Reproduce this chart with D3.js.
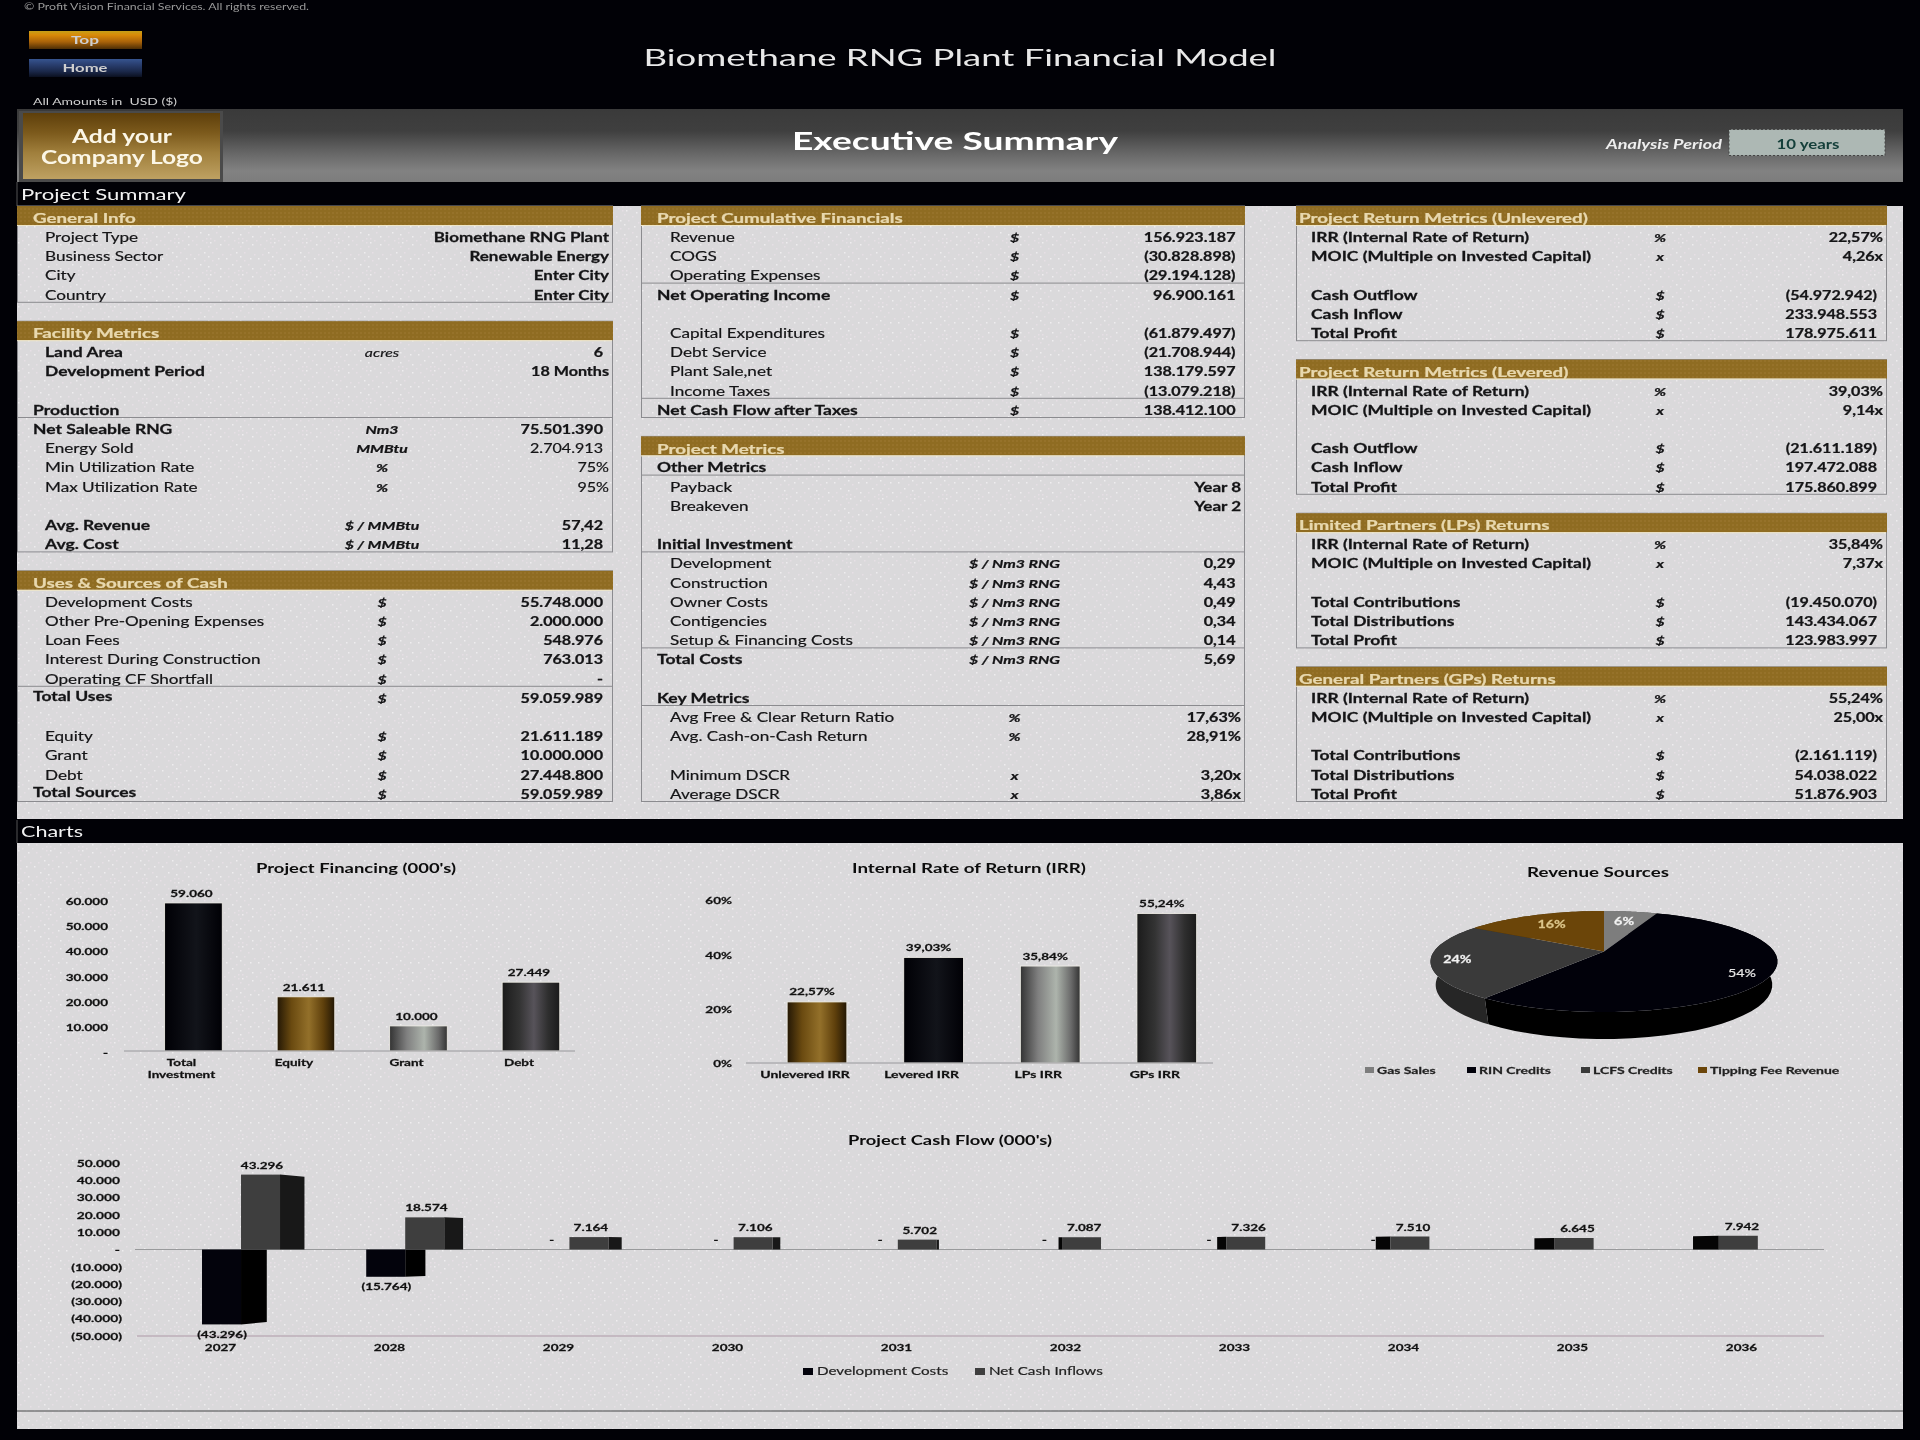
<!DOCTYPE html>
<html><head><meta charset="utf-8">
<script src="https://cdn.jsdelivr.net/npm/d3@7"></script>
<style>
html,body{margin:0;padding:0;background:#010106;}
svg{display:block;filter:blur(.3px);}
</style></head><body><div id="chart"></div>
<script>
// ---------- DATA ----------
const generalLabels=["Project Type","Business Sector","City","Country"];
const generalUnits=["","","",""];
const generalValues=["Biomethane RNG Plant","Renewable Energy","Enter City","Enter City"];

const facilityLabels=["Land Area","Development Period","","Production","Net Saleable RNG","Energy Sold","Min Utilization Rate","Max Utilization Rate","","Avg. Revenue","Avg. Cost"];
const facilityUnits=["acres","","","","Nm3","MMBtu","%","%","","$ / MMBtu","$ / MMBtu"];
const facilityValues=["6","18 Months","","","75.501.390","2.704.913","75%","95%","","57,42","11,28"];

const usesLabels=["Development Costs","Other Pre-Opening Expenses","Loan Fees","Interest During Construction","Operating CF Shortfall","Total Uses","","Equity","Grant","Debt","Total Sources"];
const usesUnits=["$","$","$","$","$","$","","$","$","$","$"];
const usesValues=["55.748.000","2.000.000","548.976","763.013","-","59.059.989","","21.611.189","10.000.000","27.448.800","59.059.989"];

const cumulativeLabels=["Revenue","COGS","Operating Expenses","Net Operating Income","","Capital Expenditures","Debt Service","Plant Sale,net","Income Taxes","Net Cash Flow after Taxes"];
const cumulativeUnits=["$","$","$","$","","$","$","$","$","$"];
const cumulativeValues=["156.923.187","(30.828.898)","(29.194.128)","96.900.161","","(61.879.497)","(21.708.944)","138.179.597","(13.079.218)","138.412.100"];

const metricsLabels=["Other Metrics","Payback","Breakeven","","Initial Investment","Development","Construction","Owner Costs","Contigencies","Setup & Financing Costs","Total Costs","","Key Metrics","Avg Free & Clear Return Ratio","Avg. Cash-on-Cash Return","","Minimum DSCR","Average DSCR"];
const metricsUnits=["","","","","","$ / Nm3 RNG","$ / Nm3 RNG","$ / Nm3 RNG","$ / Nm3 RNG","$ / Nm3 RNG","$ / Nm3 RNG","","","%","%","","x","x"];
const metricsValues=["","Year 8","Year 2","","","0,29","4,43","0,49","0,34","0,14","5,69","","","17,63%","28,91%","","3,20x","3,86x"];

const returnUnits=["%","x","","$","$","$"];
const unleveredLabels=["IRR (Internal Rate of Return)","MOIC (Multiple on Invested Capital)","","Cash Outflow","Cash Inflow","Total Profit"];
const unleveredValues=["22,57%","4,26x","","(54.972.942)","233.948.553","178.975.611"];
const leveredLabels=unleveredLabels;
const leveredValues=["39,03%","9,14x","","(21.611.189)","197.472.088","175.860.899"];
const partnerLabels=["IRR (Internal Rate of Return)","MOIC (Multiple on Invested Capital)","","Total Contributions","Total Distributions","Total Profit"];
const lpValues=["35,84%","7,37x","","(19.450.070)","143.434.067","123.983.997"];
const gpValues=["55,24%","25,00x","","(2.161.119)","54.038.022","51.876.903"];

const financingCategories=["Total Investment","Equity","Grant","Debt"];
const financingValues=[59060,21611,10000,27449];
const financingTicks=[0,10000,20000,30000,40000,50000,60000];

const irrCategories=["Unlevered IRR","Levered IRR","LPs IRR","GPs IRR"];
const irrValues=[22.57,39.03,35.84,55.24];
const irrTicks=[0,20,40,60];

const revenueCategories=["Gas Sales","RIN Credits","LCFS Credits","Tipping Fee Revenue"];
const revenueShares=[6,54,24,16];

const cashYears=["2027","2028","2029","2030","2031","2032","2033","2034","2035","2036"];
const developmentCosts=[-43296,-15764,0,0,0,0,0,0,0,0];
const netCashInflows=[43296,18574,7164,7106,5702,7087,7326,7510,6645,7942];
const cashTicks=[-50000,-40000,-30000,-20000,-10000,0,10000,20000,30000,40000,50000];

// ---------- HELPERS ----------
const W=1920,H=1440,FONT="Lato, 'Open Sans', sans-serif";
const svg=d3.select("#chart").append("svg").attr("width",W).attr("height",H).attr("viewBox",`0 0 ${W} ${H}`);
const defs=svg.append("defs");
const loc=d3.formatLocale({decimal:",",thousands:".",grouping:[3],currency:["$",""]});
const fInt=loc.format(",d");
const fAcc=v=>v===0?"-":v<0?`(${fInt(-v)})`:fInt(v);
const fPct2=v=>loc.format(".2f")(v)+"%";

function grad(id,stops,vertical){
  const g=defs.append("linearGradient").attr("id",id).attr("x1",0).attr("y1",0)
    .attr("x2",vertical?0:1).attr("y2",vertical?1:0);
  stops.forEach(([o,c])=>g.append("stop").attr("offset",o).attr("stop-color",c));
}
grad("gBlack",[[0,"#000005"],[.55,"#12141a"],[1,"#000005"]]);
grad("gGold",[[0,"#231705"],[.25,"#6a4a10"],[.55,"#93702a"],[.8,"#5f400c"],[1,"#231705"]]);
grad("gSilver",[[0,"#333333"],[.3,"#808080"],[.6,"#adb4ac"],[.85,"#6a6a6a"],[1,"#333333"]]);
grad("gDark",[[0,"#1b1b1b"],[.3,"#333333"],[.55,"#57535a"],[.8,"#2e2e2e"],[1,"#1b1b1b"]]);
grad("gBand",[[0,"#3a3a3a"],[.3,"#3f3f3f"],[.6,"#666666"],[.85,"#828282"],[1,"#7c7c7c"]],true);
grad("gLogo",[[0,"#5e3f0b"],[.3,"#7c5a1c"],[.6,"#a07f3c"],[1,"#bea162"]],true);
grad("gTop",[[0,"#c4a018"],[.22,"#d98a08"],[.6,"#a9630a"],[1,"#4d2e05"]],true);
grad("gHome",[[0,"#36548f"],[.3,"#2a3f70"],[.7,"#1a2748"],[1,"#0b1020"]],true);

// dithered paper texture of the sheet
const pat=defs.append("pattern").attr("id","paper").attr("width",32).attr("height",32).attr("patternUnits","userSpaceOnUse");
pat.append("rect").attr("width",32).attr("height",32).attr("fill","#dad9db");
const tileDots=[[16,0],[12,4],[20,4],[8,8],[24,8],[4,12],[28,12],[0,16],[4,20],[28,20],[8,24],[24,24],[12,28],[20,28],[14,14],[18,18],[14,18],[18,14],[2,2],[30,30],[6,30],[26,2],[10,16],[22,16],[16,10],[16,22]];
tileDots.forEach(([x,y],i)=>pat.append("rect").attr("x",x).attr("y",y).attr("width",1.5).attr("height",1.5).attr("fill",i%3?"#e6dfe5":"#efedef"));
const pat2=defs.append("pattern").attr("id","goldTex").attr("width",4).attr("height",4).attr("patternUnits","userSpaceOnUse");
pat2.append("rect").attr("width",4).attr("height",4).attr("fill","#8f6c22");
pat2.append("rect").attr("width",2).attr("height",2).attr("fill","#96722a");

function txt(parent,x,y,s,o={}){
  const sx=o.sx===undefined?1.36:o.sx;
  const fill=o.fill||"#141416";
  return parent.append("text")
    .attr("transform",`translate(${x},${y}) scale(${sx},1)`)
    .attr("dy",".35em")
    .attr("font-family",FONT)
    .attr("font-size",o.size||12.5)
    .attr("font-weight",o.weight||400)
    .attr("font-style",o.italic?"italic":"normal")
    .attr("text-anchor",o.anchor||"start")
    .attr("fill",fill)
    .attr("stroke",fill).attr("stroke-width",o.weight===700?.25:.18)
    .text(s);
}
function fit(parent,x,y,s,w,o={}){
  return parent.append("text").attr("x",x).attr("y",y).attr("dy",".35em")
    .attr("font-family",FONT).attr("font-size",o.size||14).attr("font-weight",o.weight||400)
    .attr("font-style",o.italic?"italic":"normal")
    .attr("text-anchor",o.anchor||"middle").attr("fill",o.fill||"#141416")
    .attr("textLength",w).attr("lengthAdjust","spacingAndGlyphs").text(s);
}
function styleAxisText(g,o){
  const sx=o.sx||1.35;
  g.selectAll("text").attr("font-family",FONT).attr("font-size",o.size||10).attr("font-weight",700)
    .attr("fill","#111").attr("stroke","#111").attr("stroke-width",.25);
  g.selectAll(".tick text").each(function(){
    const t=d3.select(this);
    const x=+t.attr("x")||0;
    t.attr("x",x/sx).attr("transform",`scale(${sx},1)`);
  });
}

// ---------- PAGE FRAME ----------
svg.append("rect").attr("width",W).attr("height",H).attr("fill","#010106");
const FX0=17,FX1=1903;
svg.append("rect").attr("x",FX0).attr("y",109).attr("width",FX1-FX0).attr("height",73).attr("fill","url(#gBand)");
svg.append("rect").attr("x",FX0).attr("y",206).attr("width",FX1-FX0).attr("height",613).attr("fill","url(#paper)");
svg.append("rect").attr("x",FX0).attr("y",843).attr("width",FX1-FX0).attr("height",586).attr("fill","url(#paper)");
svg.append("line").attr("x1",FX0).attr("x2",FX1).attr("y1",1411).attr("y2",1411).attr("stroke","#77777a").attr("stroke-width",1.5);
svg.append("line").attr("x1",FX0).attr("x2",FX0).attr("y1",182).attr("y2",206).attr("stroke","#555");
svg.append("line").attr("x1",FX0).attr("x2",FX0).attr("y1",820).attr("y2",843).attr("stroke","#555");

fit(svg,24,7,"© Profit Vision Financial Services. All rights reserved.",285,{anchor:"start",size:9.5,fill:"#9a9a9a"});
[["Top",31,"url(#gTop)",39],["Home",59,"url(#gHome)",67]].forEach(([s,y,f,ty])=>{
  svg.append("rect").attr("x",29).attr("y",y).attr("width",113).attr("height",18).attr("fill",f);
  fit(svg,85,ty+1,s,s==="Top"?28:45,{size:12,fill:"#cfcfcf",weight:700});
});
fit(svg,33,101,"All Amounts in\u00a0 USD ($)",144,{anchor:"start",size:10,fill:"#d0d0d0"});
fit(svg,960,58,"Biomethane RNG Plant Financial Model",633,{size:24,fill:"#e8e8e8"});
fit(svg,955,141,"Executive Summary",326,{size:25,fill:"#ffffff",weight:700});

svg.append("rect").attr("x",19).attr("y",111).attr("width",204).attr("height",71).attr("fill","#4a4a4a");
svg.append("rect").attr("x",23).attr("y",113).attr("width",197).attr("height",66).attr("fill","url(#gLogo)");
fit(svg,122,137,"Add your",100,{size:18,fill:"#fbf6e6",weight:700});
fit(svg,122,158,"Company Logo",162,{size:18,fill:"#fbf6e6",weight:700});

fit(svg,1722,145,"Analysis Period",116,{anchor:"end",size:12.5,fill:"#eeeeee",weight:700,italic:true});
svg.append("rect").attr("x",1729).attr("y",129.5).attr("width",156).attr("height",26).attr("fill","#adb8b4")
  .attr("stroke","#444").attr("stroke-width",1).attr("stroke-dasharray","2 2");
fit(svg,1808,145,"10 years",63,{size:12.5,fill:"#153f3a",weight:700});
fit(svg,21,195,"Project Summary",165,{anchor:"start",size:15,fill:"#f2f2f2",weight:400});
fit(svg,21,832,"Charts",62,{anchor:"start",size:15,fill:"#f2f2f2",weight:400});

// ---------- TABLES ----------
const rowY=k=>237.7+19.2*k;
const columns={
  left:{x0:17,x1:612,head:33,ind0:33,ind1:45,unit:382,num:603,text:609},
  mid:{x0:641,x1:1244,head:657,ind0:657,ind1:670,unit:1014.5,num:1235.5,text:1241},
  right:{x0:1296,x1:1886,head:1299,ind0:1299,ind1:1311,unit:1660,num:1877,text:1883}
};
const boldRows=new Set(["Land Area","Development Period","Production","Net Saleable RNG","Avg. Revenue","Avg. Cost","Total Uses","Total Sources","Net Operating Income","Net Cash Flow after Taxes","Other Metrics","Initial Investment","Total Costs","Key Metrics"]);
const outdentRows=new Set(["Production","Net Saleable RNG","Total Uses","Total Sources","Net Operating Income","Net Cash Flow after Taxes","Other Metrics","Initial Investment","Total Costs","Key Metrics"]);
const ruleBelow=new Set(["Production","Operating CF Shortfall","Operating Expenses","Income Taxes","Other Metrics","Initial Investment","Setup & Financing Costs","Key Metrics"]);
const raisedRows=new Set(["Total Uses","Total Sources"]);
const lightValues=new Set(["Energy Sold","Min Utilization Rate","Max Utilization Rate"]);

function block(col,k,title,labels,units,values,allBold){
  const c=columns[col],g=svg.append("g");
  const top=rowY(k)-12.5, bottom=rowY(k+labels.length)+7;
  g.append("rect").attr("x",c.x0+.5).attr("y",top).attr("width",c.x1-c.x0).attr("height",bottom-top)
    .attr("fill","none").attr("stroke","#8b8b8f");
  g.append("rect").attr("x",c.x0).attr("y",top).attr("width",c.x1-c.x0+1).attr("height",19).attr("fill","url(#goldTex)");
  g.append("line").attr("x1",c.x0).attr("x2",c.x1).attr("y1",top+19.5).attr("y2",top+19.5).attr("stroke","#efe6c8");
  txt(g,c.head,rowY(k)+.3,title,{fill:"#e8d8ae",weight:700,size:12.5,sx:1.5});
  labels.forEach((lab,i)=>{
    const y=rowY(k+1+i), bold=allBold||boldRows.has(lab);
    if(lab){
      const yy=raisedRows.has(lab)?y-1.6:y;
      txt(g,outdentRows.has(lab)?c.ind0:c.ind1,yy,lab,{weight:bold?700:400,sx:bold?1.4:1.37});
    }
    if(units[i]) txt(g,c.unit,y,units[i],{anchor:"middle",italic:true,weight:units[i]==="acres"?400:700,sx:1.32,size:12});
    if(values[i]){
      const hasLetters=/[a-zA-Z]/.test(values[i]),isText=hasLetters||/%$/.test(values[i]);
      txt(g,isText?c.text:c.num,y,values[i],{anchor:"end",weight:lightValues.has(lab)?400:700,sx:hasLetters&&!/^\d/.test(values[i])?1.36:1.29});
    }
    if(ruleBelow.has(lab))
      g.append("line").attr("x1",c.x0).attr("x2",c.x1).attr("y1",y+7).attr("y2",y+7).attr("stroke","#8b8b8f");
  });
}
block("left",-1,"General Info",generalLabels,generalUnits,generalValues);
block("left",5,"Facility Metrics",facilityLabels,facilityUnits,facilityValues);
block("left",18,"Uses & Sources of Cash",usesLabels,usesUnits,usesValues);
block("mid",-1,"Project Cumulative Financials",cumulativeLabels,cumulativeUnits,cumulativeValues);
block("mid",11,"Project Metrics",metricsLabels,metricsUnits,metricsValues);
block("right",-1,"Project Return Metrics (Unlevered)",unleveredLabels,returnUnits,unleveredValues,true);
block("right",7,"Project Return Metrics (Levered)",leveredLabels,returnUnits,leveredValues,true);
block("right",15,"Limited Partners (LPs) Returns",partnerLabels,returnUnits,lpValues,true);
block("right",23,"General Partners (GPs) Returns",partnerLabels,returnUnits,gpValues,true);

// ---------- PROJECT FINANCING ----------
(function(){
  const g=svg.append("g"), y0=1051;
  const x=d3.scaleBand().domain(financingCategories).range([137.2,587.2]).paddingInner(.488).paddingOuter(.244);
  const y=d3.scaleLinear().domain([0,60000]).range([y0,900.6]);
  const fills=["url(#gBlack)","url(#gGold)","url(#gSilver)","url(#gDark)"];
  fit(g,356,868,"Project Financing (000's)",200,{size:13.5,weight:700,fill:"#0c0c0c"});
  const ya=g.append("g").attr("transform","translate(111,1)")
    .call(d3.axisLeft(y).tickValues(financingTicks).tickSize(0).tickPadding(3).tickFormat(fAcc));
  ya.select(".domain").remove(); styleAxisText(ya,{size:10,sx:1.35});
  g.selectAll("rect.b").data(financingValues).join("rect").attr("class","b")
    .attr("x",(d,i)=>x(financingCategories[i])).attr("width",x.bandwidth())
    .attr("y",d=>y(d)).attr("height",d=>y0-y(d)).attr("fill",(d,i)=>fills[i])
    .attr("stroke","#f4f2ea").attr("stroke-width",.8);
  g.append("line").attr("x1",124).attr("x2",575).attr("y1",y0).attr("y2",y0).attr("stroke","#98989c").attr("stroke-width",1);
  const xa=g.append("g").attr("transform",`translate(-12,${y0})`)
    .call(d3.axisBottom(x).tickSize(0).tickPadding(8));
  xa.select(".domain").remove(); styleAxisText(xa,{size:10,sx:1.35});
  xa.selectAll(".tick text").each(function(d){
    const w=d.split(" ");
    if(w.length>1){
      const t=d3.select(this).text(null);
      w.forEach((s,i)=>t.append("tspan").attr("x",0).attr("dy",i?"1.15em":".71em").text(s));
    }
  });
  financingValues.forEach((v,i)=>txt(g,x(financingCategories[i])+x.bandwidth()/2-2,y(v)-9.5,fAcc(v),{anchor:"middle",weight:700,size:10,sx:1.35,fill:"#111"}));
})();

// ---------- IRR ----------
(function(){
  const g=svg.append("g"), y0=1063;
  const x=d3.scaleBand().domain(irrCategories).range([758.7,1225.1]).paddingInner(.488).paddingOuter(.244);
  const y=d3.scaleLinear().domain([0,60]).range([y0,900.7]);
  const fills=["url(#gGold)","url(#gBlack)","url(#gSilver)","url(#gDark)"];
  fit(g,969,868,"Internal Rate of Return (IRR)",234,{size:13.5,weight:700,fill:"#0c0c0c"});
  const ya=g.append("g").attr("transform","translate(735,0)")
    .call(d3.axisLeft(y).tickValues(irrTicks).tickSize(0).tickPadding(3).tickFormat(d=>d+"%"));
  ya.select(".domain").remove(); styleAxisText(ya,{size:10,sx:1.35});
  g.selectAll("rect.b").data(irrValues).join("rect").attr("class","b")
    .attr("x",(d,i)=>x(irrCategories[i])).attr("width",x.bandwidth())
    .attr("y",d=>y(d)).attr("height",d=>y0-y(d)).attr("fill",(d,i)=>fills[i])
    .attr("stroke","#f4f2ea").attr("stroke-width",.8);
  g.append("line").attr("x1",746).attr("x2",1213).attr("y1",y0).attr("y2",y0).attr("stroke","#98989c");
  const xa=g.append("g").attr("transform",`translate(-12,${y0})`)
    .call(d3.axisBottom(x).tickSize(0).tickPadding(8));
  xa.select(".domain").remove(); styleAxisText(xa,{size:10,sx:1.4});
  irrValues.forEach((v,i)=>txt(g,x(irrCategories[i])+x.bandwidth()/2-5,y(v)-10,fPct2(v),{anchor:"middle",weight:700,size:10,sx:1.35,fill:"#111"}));
})();

// ---------- REVENUE PIE (perspective tilt) ----------
(function(){
  const g=svg.append("g");
  const cx=1604,cy=951.4,rx=170,ry=48.5,persp=.2,depth=22.5,inset=.97;
  const topFill=["#7d7d7d","#01010a","#3a3a3a","#6b4509"];
  const wallFill=["#555555","#000000","#262626","#4a3006"];
  const labelFill=["#f2f2f2","#e6e6e6","#f2f2f2","#dcc58a"];
  const labelRadius=[.72,.85,.85,.72];
  const proj=(a,r=1)=>{
    const u=r*Math.sin(a),v=r*Math.cos(a),f=1/(1+persp*v);
    return [cx+rx*u*f,cy-ry*v*f];
  };
  const arcs=d3.pie().sort(null)(revenueShares);
  const line=d3.line().curve(d3.curveLinear);
  const angles=a=>d3.range(0,41).map(i=>a.startAngle+(a.endAngle-a.startAngle)*i/40);
  const lower=t=>{
    const [x,y]=proj(t),v=Math.cos(t);
    return [cx+(x-cx)*inset,y+depth*(1+.2*Math.max(0,-v))];
  };
  fit(g,1598,872,"Revenue Sources",142,{size:13.5,weight:700,fill:"#0c0c0c"});
  arcs.forEach((a,i)=>{
    const ts=angles(a);
    g.append("path").attr("d",line(ts.map(t=>proj(t)).concat(ts.slice().reverse().map(lower)))+"Z").attr("fill",wallFill[i]);
  });
  arcs.forEach((a,i)=>{
    g.append("path").attr("d",line([[cx,cy]].concat(angles(a).map(t=>proj(t))))+"Z").attr("fill",topFill[i]);
  });
  arcs.forEach((a,i)=>{
    const [lx,ly]=proj((a.startAngle+a.endAngle)/2,labelRadius[i]);
    txt(g,lx,ly,revenueShares[i]+"%",{anchor:"middle",size:11,weight:i===1?400:700,sx:1.3,fill:labelFill[i]});
  });
  const legendX=[1365,1467,1581,1698];
  revenueCategories.forEach((c,i)=>{
    g.append("rect").attr("x",legendX[i]).attr("y",1067).attr("width",9).attr("height",6).attr("fill",topFill[i]);
    txt(g,legendX[i]+12,1070,c,{size:10,weight:700,sx:1.4,fill:"#222"});
  });
})();

// ---------- PROJECT CASH FLOW ----------
(function(){
  const g=svg.append("g");
  const x=d3.scalePoint().domain(cashYears).range([220,1741]);
  const y=d3.scaleLinear().domain([-50000,50000]).range([1336,1163]);
  const y0=y(0), barW=39;
  const vanish=960;
  const offset=px=>.0284*(vanish-px);      // drift of the columns in the chart's 3-D view
  const wall=px=>.034*(vanish-px);         // visible side wall, positive = right, negative = left
  const labelDrift=px=>.027*(1775-px);
  const zeroDrift=px=>3-.0278*(px-220);
  fit(g,950,1140,"Project Cash Flow (000's)",204,{size:13.5,weight:700,fill:"#0c0c0c"});
  const ya=g.append("g").attr("transform","translate(122,0)")
    .call(d3.axisLeft(y).tickValues(cashTicks).tickSize(0).tickPadding(0).tickFormat(fAcc));
  ya.select(".domain").remove(); styleAxisText(ya,{size:10,sx:1.38});
  ya.selectAll(".tick text").each(function(d){ if(d>=0) d3.select(this).attr("x",-2/1.38); });
  g.append("line").attr("x1",137).attr("x2",1824).attr("y1",1336).attr("y2",1336).attr("stroke","#bcaeb8").attr("stroke-width",1.4);
  g.append("line").attr("x1",135).attr("x2",1824).attr("y1",y0).attr("y2",y0).attr("stroke","#999a9c");
  const xa=g.append("g").attr("transform","translate(0,1336)")
    .call(d3.axisBottom(x).tickSize(0).tickPadding(8));
  xa.select(".domain").remove(); styleAxisText(xa,{size:10,sx:1.35});

  function column(px,val,front,sideFill){
    const d=wall(px),yv=y(val),shrink=Math.abs(d)/25*.03*(y0-yv);
    const side=d>=0
      ?[[px+barW,yv],[px+barW+d,yv+shrink],[px+barW+d,y0],[px+barW,y0]]
      :[[px,yv],[px+d,yv+shrink],[px+d,y0],[px,y0]];
    g.append("path").attr("d",d3.line()(side)+"Z").attr("fill",sideFill);
    g.append("rect").attr("x",px).attr("width",barW).attr("y",Math.min(yv,y0)).attr("height",Math.abs(y0-yv)).attr("fill",front);
  }
  cashYears.forEach((yr,i)=>{
    const c=x(yr),o=offset(c),dv=developmentCosts[i],nv=netCashInflows[i];
    if(dv===0){
      txt(g,c+zeroDrift(c),1239,fAcc(dv),{anchor:"middle",weight:700,size:10,sx:1.3,fill:"#111"});
    }else{
      column(c+o-39,dv,"#03030c","#000000");
      txt(g,c+zeroDrift(c)-1,y(dv)+10,fAcc(dv),{anchor:"middle",weight:700,size:10,sx:1.35,fill:"#111"});
    }
    column(c+o,nv,"#3e3e3e",wall(c)>=0?"#181818":"#050505");
    txt(g,c+labelDrift(c),y(nv)-9.5,fAcc(nv),{anchor:"middle",weight:700,size:10,sx:1.35,fill:"#111"});
  });
  const lg=[["Development Costs",803,"#03030c"],["Net Cash Inflows",975,"#3e3e3e"]];
  lg.forEach(([s,lx,f])=>{
    g.append("rect").attr("x",lx).attr("y",1368).attr("width",10).attr("height",7).attr("fill",f);
    txt(g,lx+14,1371,s,{size:10.5,sx:1.45,fill:"#222"});
  });
})();
</script></body></html>
